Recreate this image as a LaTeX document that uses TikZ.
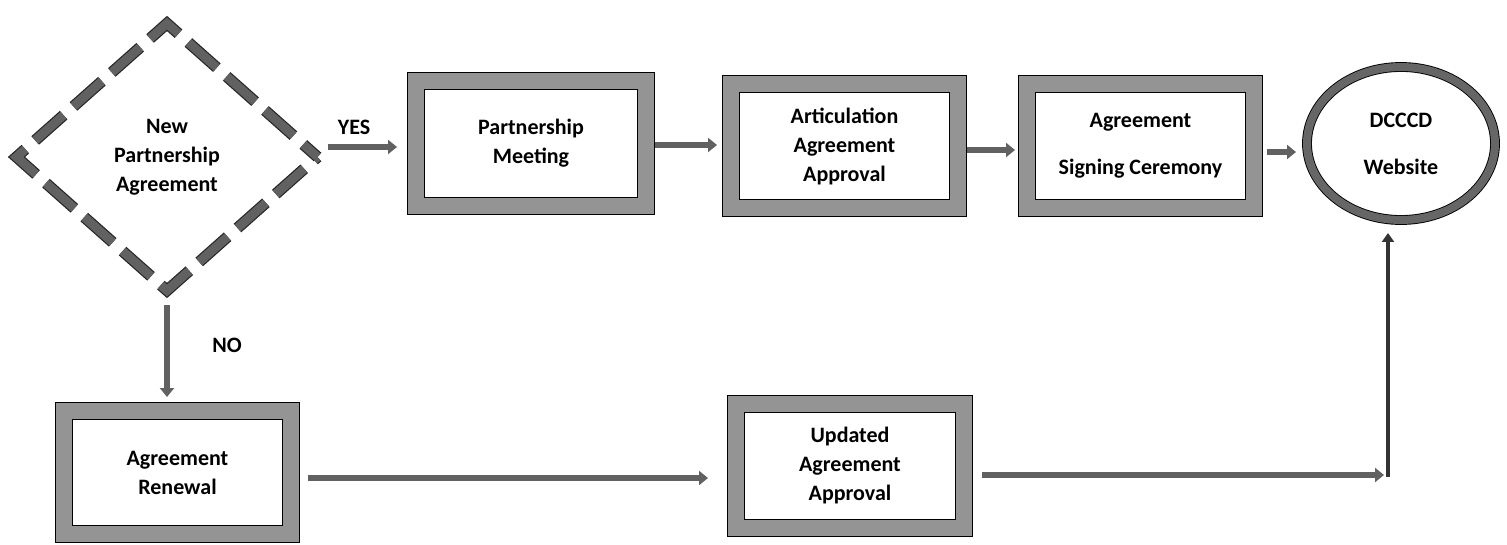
\documentclass[tikz,border=0pt]{standalone}
\usepackage{fontspec}
\setmainfont{Carlito}
\usetikzlibrary{shapes.geometric,arrows.meta,calc}
\tikzset{
  lbl/.style={font=\bfseries\fontsize{22}{29}\selectfont, align=center},
  framebox/.style={lbl, rectangle, draw=black, line width=0.9pt, double=black!42, double distance=16pt,
    fill=white, inner sep=0pt, outer sep=9pt},
  decision/.style={lbl, diamond, draw=black!85, line width=1.2pt, double=black!62, double distance=9pt,
    dash pattern=on 38pt off 13.2pt, dash phase=19pt, fill=white, inner sep=0pt, outer sep=6pt,
    minimum width=306pt, minimum height=272pt},
  endpoint/.style={lbl, ellipse, draw=black, line width=0.9pt, double=black!60, double distance=8pt,
    fill=white, inner sep=0pt, outer sep=5pt, minimum width=188pt, minimum height=153pt},
  arr/.style={line width=6pt, draw=black!62, -{Triangle[length=9pt, width=14pt]}},
  thinarr/.style={line width=4.5pt, draw=black!80, -{Triangle[length=9pt, width=12pt]}},
  tag/.style={font=\bfseries\fontsize{22}{26}\selectfont}
}
\begin{document}
\begin{tikzpicture}[x=1pt,y=1pt]
\useasboundingbox (0,0) rectangle (1507,544);
\fill[white] (0,0) rectangle (1507,544);

\node[decision] (dia) at (167,387) {New\\Partnership\\Agreement};
\node[framebox, minimum width=230pt, minimum height=125pt] (pm) at (531,400.5) {Partnership\\Meeting};
\node[framebox, minimum width=227pt, minimum height=124pt] (aa) at (844.5,398) {Articulation\\Agreement\\Approval};
\node[framebox, minimum width=227pt, minimum height=124pt] (sc) at (1140.5,398) {Agreement\\[18pt]Signing Ceremony};
\node[endpoint] (web) at (1401,400.5) {DCCCD\\[18pt]Website};
\node[framebox, minimum width=227pt, minimum height=123pt] (ren) at (177.5,71.5) {Agreement\\Renewal};
\node[framebox, minimum width=228pt, minimum height=124pt] (upd) at (850,78) {Updated\\Agreement\\Approval};
\coordinate (corner) at (1388,69);

\node[tag] (yes) at (354,417) {YES};
\node[tag] (no) at (227,199) {NO};

\draw[arr, shorten <=2pt, shorten >=10pt] (dia.east |- 0,397) -- (pm.west |- 0,397);
\draw[arr, shorten >=5pt] (pm.east |- 0,399) -- (aa.west |- 0,399);
\draw[arr, shorten >=3pt] (aa.east |- 0,394) -- (sc.west |- 0,394);
\draw[arr, shorten <=4pt, shorten >=6pt] (sc.east |- 0,392) -- (web.west |- 0,392);
\draw[arr, shorten <=6pt, shorten >=5pt] (dia.south) -- (dia.south |- ren.north);
\draw[arr, shorten <=8pt, shorten >=19pt] (ren.east |- 0,66) -- (upd.west |- 0,66);
\draw[arr, shorten <=9pt, shorten >=4pt] (upd.east |- corner) -- (corner);
\draw[thinarr, shorten >=8pt] ($(corner)+(0,-2)$) -- (corner |- web.south);
\end{tikzpicture}
\end{document}
